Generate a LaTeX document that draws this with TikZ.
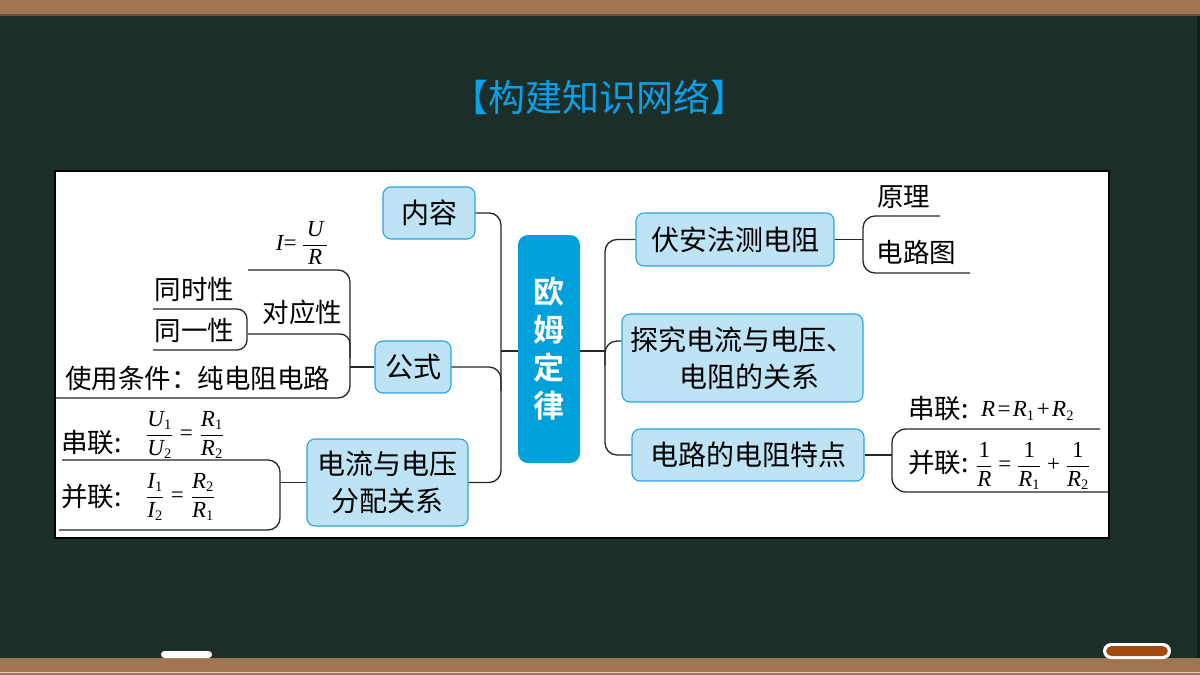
\documentclass[tikz,border=0pt]{standalone}
\usepackage{fontspec}
\setmainfont{Noto Sans CJK SC}
\newfontfamily\cjkbold{Noto Sans CJK SC Bold}
\newfontfamily\tms{Liberation Serif}
\usetikzlibrary{calc}
\newcommand\myfr[2]{{\displaystyle{{#1}\above 0.9pt{#2}}}}
\newcommand\vv[1]{\mbox{\tms\itshape\fontsize{23}{27}\selectfont #1}}
\newcommand\sbs[1]{\mbox{\tms\fontsize{14.5}{14.5}\selectfont #1}}
\newcommand\nn[1]{\mbox{\tms\fontsize{23}{27}\selectfont #1}}
\definecolor{board}{HTML}{1C2E28}
\definecolor{boardedge}{HTML}{141F1B}
\definecolor{brown}{HTML}{A07352}
\definecolor{browndark}{HTML}{6E4C34}
\definecolor{brownlight}{HTML}{E3CDB8}
\definecolor{boxfill}{HTML}{BEE3F5}
\definecolor{boxline}{HTML}{2AA5DD}
\definecolor{ohmfill}{HTML}{00A0DA}
\definecolor{titleblue}{HTML}{0AA0EA}
\definecolor{linec}{HTML}{262626}
\definecolor{eraser}{HTML}{A24A10}
\begin{document}
\begin{tikzpicture}[x=1pt,y=-1pt,
  conn/.style={draw=linec, line width=1.3pt},
  box/.style={draw=boxline, fill=boxfill, line width=1.1pt, rounded corners=8pt, inner sep=0pt, align=center, font=\fontsize{28}{37}\selectfont},
  ohmbox/.style={fill=ohmfill, rounded corners=10pt, inner sep=0pt, align=center, text=white, font=\cjkbold\fontsize{31}{38}\selectfont},
  leaf/.style={inner sep=0pt, font=\fontsize{26.5}{30}\selectfont},
  mth/.style={inner sep=0pt, font=\fontsize{20}{24}\selectfont}]
\useasboundingbox (0,0) rectangle (1200,675);
% blackboard
\fill[board] (0,0) rectangle (1200,675);
\fill[boardedge] (1197,15) rectangle (1200,658);
\fill[brown] (0,0) rectangle (1200,15);
\fill[browndark] (0,14) rectangle (1200,16);
\fill[brown] (0,658) rectangle (1200,675);
\fill[brownlight] (0,671.5) rectangle (1200,673);
\fill[white, rounded corners=3.5pt] (161,651) rectangle (212,658);
\fill[white, rounded corners=8pt] (1103,643) rectangle (1171,659);
\fill[eraser, rounded corners=5.5pt] (1106,646) rectangle (1168,656);
% title
\node[font=\fontsize{37}{40}\selectfont, text=titleblue, inner sep=0pt] (title) at (599,97) {【构建知识网络】};
% panel
\draw[fill=white, draw=black, line width=1.2pt] (55,171) rectangle (1109,538);
% main nodes
\node[box, minimum width=92pt, minimum height=52pt] (neirong) at (429,213) {内容};
\node[box, minimum width=76pt, minimum height=52pt] (gongshi) at (413,367) {公式};
\node[box, minimum width=161pt, minimum height=87pt] (dianliu) at (387.5,482.5) {电流与电压\\分配关系};
\node[ohmbox, minimum width=62pt, minimum height=228pt] (ohm) at (549,349) {欧\\姆\\定\\律};
\node[box, minimum width=198pt, minimum height=53pt] (fuan) at (735,239.5) {伏安法测电阻};
\node[box, minimum width=241pt, minimum height=88pt] (tanjiu) at (742.5,358) {探究电流与电压、\\\hspace*{14pt}电阻的关系};
\node[box, minimum width=232pt, minimum height=52pt] (dianlu) at (748,455) {电路的电阻特点};
% trunks
\coordinate (trunkL) at (501,351);
\coordinate (trunkR) at (605,351);
\draw[conn] ([yshift=-2pt]ohm.west) -- (trunkL);
\draw[conn, rounded corners=12pt] (neirong.east) -| (trunkL |- dianliu.east) -- (dianliu.east);
\draw[conn, rounded corners=12pt] (gongshi.east) -| ($(trunkL |- gongshi.east)+(0,24)$);
\draw[conn] ([yshift=-2pt]ohm.east) -- (trunkR);
\draw[conn, rounded corners=12pt] (fuan.west) -| (trunkR |- dianlu.west) -- (dianlu.west);
\coordinate (tjA) at ([yshift=17pt]tanjiu.west);
\draw[conn, rounded corners=12pt] (tjA) -| ($(tjA -| trunkR)+(0,24)$);
% formula branch
\coordinate (fa) at (248,270);
\coordinate (fb) at (350,398);
\coordinate (fc) at (55,398);
\draw[conn, rounded corners=12pt] (fa) -| (fb) -- (fc);
\coordinate (dy) at (248,334);
\draw[conn, rounded corners=10pt] (dy) -| ($(dy -| fb)+(0,24)$);
\draw[conn] (gongshi.west) -- (gongshi.west -| fb);
\coordinate (ta) at (153,309);
\coordinate (tb) at (247,350);
\coordinate (tc) at (153,350);
\draw[conn, rounded corners=10pt] (ta) -| (tb) -- (tc);
\node[mth] (ohmf) at (302,243) {$\vv{I}\nn{=}\;\myfr{\,\vv{U}\,}{\vv{R}}$};
\node[leaf] (tsx) at (194.5,289) {同时性};
\node[leaf] (tyx) at (194.5,330) {同一性};
\node[leaf] (dyx) at (302.5,312) {对应性};
\node[leaf] (sytj) at (197.5,378) {使用条件：纯电阻电路};
% distribution branch
\coordinate (da) at (62,460);
\coordinate (db) at (280,530);
\coordinate (dc) at (59,530);
\draw[conn, rounded corners=12pt] (da) -| (db) -- (dc);
\draw[conn] (dianliu.west) -- (dianliu.west -| db);
\node[leaf, anchor=west] (cl1t) at (61,443) {串联:};
\node[mth, anchor=west] (cl1m) at (146,435) {$\myfr{\vv{U}_{\sbs1}}{\vv{U}_{\sbs2}}\mkern6mu\nn{=}\mkern6mu\myfr{\vv{R}_{\sbs1}}{\vv{R}_{\sbs2}}$};
\node[leaf, anchor=west] (bl1t) at (61,496) {并联:};
\node[mth, anchor=west] (bl1m) at (146,497) {$\myfr{\vv{I}_{\sbs1}}{\vv{I}_{\sbs2}}\mkern6mu\nn{=}\mkern6mu\myfr{\vv{R}_{\sbs2}}{\vv{R}_{\sbs1}}$};
% right: fuan
\coordinate (ya) at (940,216);
\coordinate (yb) at (863,273);
\coordinate (yc) at (970,273);
\draw[conn, rounded corners=12pt] (ya) -| (yb) -- (yc);
\draw[conn] (fuan.east) -- (fuan.east -| yb);
\node[leaf] (yl) at (903.5,197) {原理};
\node[leaf] (dlt) at (916.5,252) {电路图};
% right: resistance
\coordinate (ra) at (1100,429);
\coordinate (rb) at (892,492);
\coordinate (rc) at (1108,492);
\draw[conn, rounded corners=14pt] (ra) -| (rb) -- (rc);
\draw[conn] (dianlu.east) -- (dianlu.east -| rb);
\node[leaf, anchor=west] (cl2t) at (908,409) {串联:};
\node[mth, anchor=west] (cl2m) at (981,411) {$\vv{R}\mkern2mu\nn{=}\mkern2mu\vv{R}_{\sbs1}\mkern2mu\nn{+}\mkern2mu\vv{R}_{\sbs2}$};
\node[leaf, anchor=west] (bl2t) at (908,462) {并联:};
\node[mth, anchor=west] (bl2m) at (976,466) {$\myfr{\nn{1}}{\vv{R}}\mkern5mu\nn{=}\mkern5mu\myfr{\nn{1}}{\vv{R}_{\sbs1}}\mkern5mu\nn{+}\mkern5mu\myfr{\nn{1}}{\vv{R}_{\sbs2}}$};
\end{tikzpicture}
\end{document}
